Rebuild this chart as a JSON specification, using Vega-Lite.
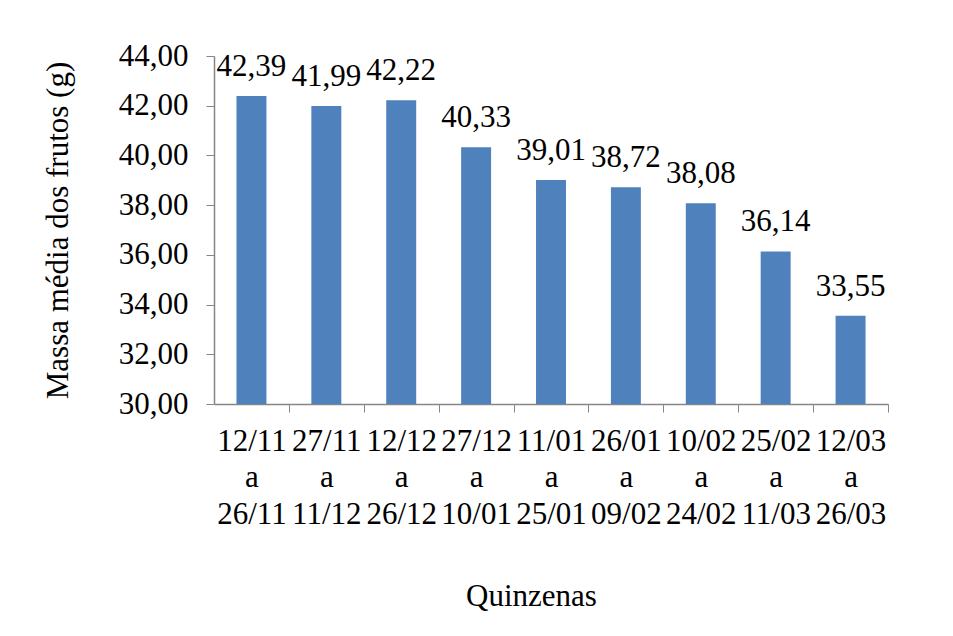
{
  "$schema": "https://vega.github.io/schema/vega-lite/v6.json",
  "autosize": "none",
  "width": 674,
  "height": 348,
  "padding": {"left": 214, "top": 56, "right": 65, "bottom": 232},
  "background": "white",
  "config": {
    "locale": {"number": {"decimal": ",", "thousands": ".", "grouping": [3], "currency": ["", ""]}},
    "view": {"stroke": null},
    "font": "Liberation Serif"
  },
  "data": {
    "values": [
      {"periodo": "12/11|a|26/11", "massa": 42.39},
      {"periodo": "27/11|a|11/12", "massa": 41.99},
      {"periodo": "12/12|a|26/12", "massa": 42.22},
      {"periodo": "27/12|a|10/01", "massa": 40.33},
      {"periodo": "11/01|a|25/01", "massa": 39.01},
      {"periodo": "26/01|a|09/02", "massa": 38.72},
      {"periodo": "10/02|a|24/02", "massa": 38.08},
      {"periodo": "25/02|a|11/03", "massa": 36.14},
      {"periodo": "12/03|a|26/03", "massa": 33.55}
    ]
  },
  "encoding": {
    "x": {
      "field": "periodo",
      "type": "nominal",
      "sort": null,
      "scale": {"paddingInner": 0.6, "paddingOuter": 0.3},
      "axis": {
        "title": "Quinzenas",
        "titleFont": "Liberation Serif",
        "titleFontSize": 31,
        "titleFontWeight": "normal",
        "titleColor": "black",
        "titlePadding": 52,
        "titleX": 317,
        "labelAngle": 0,
        "labelExpr": "split(datum.label, '|')",
        "labelFont": "Liberation Serif",
        "labelFontSize": 31,
        "labelColor": "black",
        "labelLineHeight": 36.5,
        "labelPadding": 14,
        "labelBaseline": "top",
        "labelOverlap": false,
        "labelBound": false,
        "bandPosition": 1,
        "tickOffset": 22.47,
        "labelOffset": -22.47,
        "tickColor": "#868686",
        "tickSize": 8,
        "domainColor": "#868686",
        "domainWidth": 1.5
      }
    },
    "y": {
      "field": "massa",
      "type": "quantitative",
      "scale": {"domain": [30, 44], "zero": false, "nice": false},
      "axis": {
        "title": "Massa média dos frutos (g)",
        "titleFont": "Liberation Serif",
        "titleFontSize": 31,
        "titleFontWeight": "normal",
        "titleColor": "black",
        "titlePadding": 44,
        "values": [30, 32, 34, 36, 38, 40, 42, 44],
        "format": ".2f",
        "labelFont": "Liberation Serif",
        "labelFontSize": 31,
        "labelColor": "black",
        "labelPadding": 18,
        "grid": false,
        "tickColor": "#868686",
        "tickSize": 8,
        "domainColor": "#868686",
        "domainWidth": 1.5
      }
    }
  },
  "layer": [
    {"mark": {"type": "bar", "color": "#4F81BD"}, "encoding": {"y2": {"datum": 30}}},
    {
      "mark": {"type": "text", "font": "Liberation Serif", "fontSize": 31, "color": "black", "baseline": "alphabetic", "dy": -20},
      "encoding": {"text": {"field": "massa", "type": "quantitative", "format": ".2f"}}
    }
  ]
}
